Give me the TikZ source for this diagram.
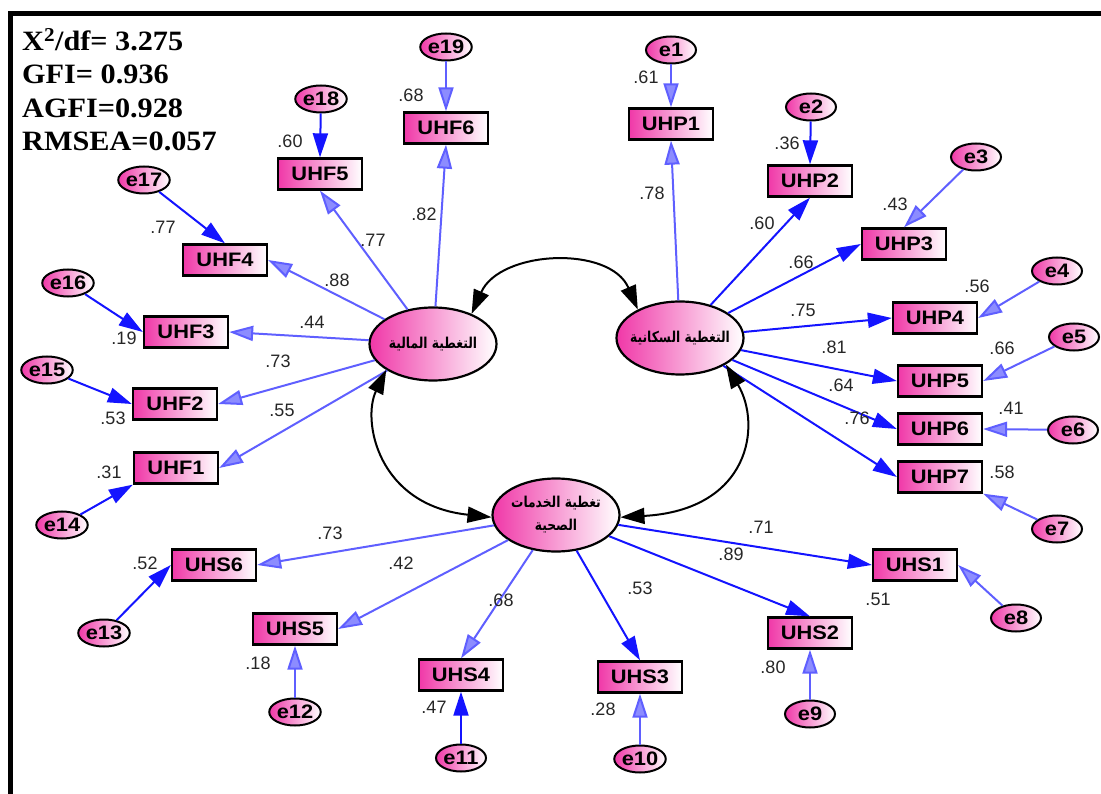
\documentclass[tikz,border=0pt]{standalone}
\usepackage{fontspec}
\setmainfont{Liberation Sans}
\newfontfamily\namefont{Liberation Sans}[FakeStretch=1.12]
\newfontfamily\statfont{Liberation Serif}[FakeStretch=1.08]
\newfontfamily\arabicfont[Script=Arabic,FakeStretch=0.82]{DejaVu Sans}
\TeXXeTstate=1
\usetikzlibrary{shapes.geometric}
\usetikzlibrary{arrows.meta}
\definecolor{pinkA}{RGB}{240,56,168}
\definecolor{loadblue}{RGB}{20,20,255}
\definecolor{ltblue}{RGB}{95,95,255}
\definecolor{ltfill}{RGB}{140,140,255}

\begin{document}
\begin{tikzpicture}[x=1pt,y=-1pt]
\tikzstyle{latent}=[ellipse, line width=2.2pt, draw=black, minimum width=127, minimum height=73, inner sep=0, left color=pinkA, middle color=pinkA!28!white, right color=white]
\tikzstyle{arab}=[font=\arabicfont\bfseries\fontsize{15}{23}\selectfont, align=center, inner sep=0]
\tikzstyle{obs}=[rectangle, line width=2.3pt, draw=black, minimum width=84, minimum height=31, inner sep=0, left color=pinkA, middle color=pinkA!22!white, right color=white, font=\namefont\bfseries\fontsize{19.5}{20}\selectfont]
\tikzstyle{error}=[ellipse, line width=2pt, draw=black, minimum width=50, minimum height=27, inner sep=0, left color=pinkA, middle color=pinkA!30!white, right color=white, font=\namefont\bfseries\fontsize{19.5}{20}\selectfont]
\tikzstyle{coef}=[inner sep=0, text=black!85, font=\fontsize{18}{19}\selectfont]
\tikzstyle{load}=[line width=2pt, draw=loadblue, -{Triangle[length=24pt,width=15pt]}]
\tikzstyle{loadlt}=[line width=2pt, draw=ltblue, -{Triangle[length=24pt,width=15pt,fill=ltfill]}]
\tikzstyle{cov}=[line width=2pt, draw=black, {Triangle[length=24pt,width=16pt]}-{Triangle[length=24pt,width=16pt]}]

	\useasboundingbox (0,0) rectangle (1101,794);
	%frame
	\draw[line width=5pt] (10.5,830) -- (10.5,13.5) -- (1130,13.5);
	\node[inner sep=0, anchor=north west, align=left, font=\statfont\bfseries\fontsize{28}{33.5}\selectfont] (stats) at (22,28) {X\textsuperscript{2}/df= 3.275\\GFI= 0.936\\AGFI=0.928\\RMSEA=0.057};

	%latent variables
	\node[latent] (fin) at (433,344) [label={[arab]center:\beginR التغطية المالية\endR}] {};
	\node[latent] (pop) at (680,338) [label={[arab]center:\beginR التغطية السكانية\endR}] {};
	\node[latent] (hlt) at (556,515) [label={[arab]center:\beginR تغطية الخدمات\endR\\\beginR الصحية\endR}] {};

	%observed
	\node[obs] (uhf1) at (176,468) {UHF1};
	\node[obs] (uhf2) at (175,404) {UHF2};
	\node[obs] (uhf3) at (186,332) {UHF3};
	\node[obs] (uhf4) at (225,260) {UHF4};
	\node[obs] (uhf5) at (320,174) {UHF5};
	\node[obs] (uhf6) at (446,128) {UHF6};
	\node[obs] (uhp1) at (671,124) {UHP1};
	\node[obs] (uhp2) at (810,181) {UHP2};
	\node[obs] (uhp3) at (904,244) {UHP3};
	\node[obs] (uhp4) at (935,318) {UHP4};
	\node[obs] (uhp5) at (940,381) {UHP5};
	\node[obs] (uhp6) at (940,429) {UHP6};
	\node[obs] (uhp7) at (940,477) {UHP7};
	\node[obs] (uhs1) at (915,565) {UHS1};
	\node[obs] (uhs2) at (810,633) {UHS2};
	\node[obs] (uhs3) at (640,677) {UHS3};
	\node[obs] (uhs4) at (461,675) {UHS4};
	\node[obs] (uhs5) at (295,629) {UHS5};
	\node[obs] (uhs6) at (214,565) {UHS6};

	%errors
	\node[error] (e1) at (671,50) {e1};
	\node[error] (e2) at (811,107) {e2};
	\node[error] (e3) at (976,157) {e3};
	\node[error] (e4) at (1057,271) {e4};
	\node[error] (e5) at (1074,337) {e5};
	\node[error] (e6) at (1073,430) {e6};
	\node[error] (e7) at (1057,529) {e7};
	\node[error] (e8) at (1016,618) {e8};
	\node[error] (e9) at (810,714) {e9};
	\node[error] (e10) at (640,759) {e10};
	\node[error] (e11) at (461,758) {e11};
	\node[error] (e12) at (295,712) {e12};
	\node[error] (e13) at (104,633) {e13};
	\node[error] (e14) at (62,525) {e14};
	\node[error] (e15) at (47,370) {e15};
	\node[error] (e16) at (68,283) {e16};
	\node[error] (e17) at (144,180) {e17};
	\node[error] (e18) at (321,99) {e18};
	\node[error] (e19) at (446,47) {e19};

	%loadings
	\draw[loadlt] (fin) -- (uhf6.south);
	\draw[loadlt] (fin) -- (uhf5.south);
	\draw[loadlt] (fin) -- (uhf4.east);
	\draw[loadlt] (fin) -- (uhf3.east);
	\draw[loadlt] (fin) -- (uhf2.east);
	\draw[loadlt] (fin) -- (uhf1.east);
	\draw[loadlt] (pop) -- (uhp1.south);
	\draw[load] (pop) -- (uhp2.south);
	\draw[load] (pop) -- (uhp3.west);
	\draw[load] (pop) -- (uhp4.west);
	\draw[load] (pop) -- (uhp5.west);
	\draw[load] (pop) -- (uhp6.west);
	\draw[load] (pop) -- (uhp7.west);
	\draw[loadlt] (hlt) -- (uhs6.east);
	\draw[loadlt] (hlt) -- (uhs5.east);
	\draw[loadlt] (hlt) -- (uhs4.north);
	\draw[load] (hlt) -- (uhs3.north);
	\draw[load] (hlt) -- (uhs2.north);
	\draw[load] (hlt) -- (uhs1.west);

	%error paths
	\draw[loadlt] (e1) -- (uhp1.north);
	\draw[load] (e2) -- (uhp2.north);
	\draw[loadlt] (e3) -- (uhp3.north);
	\draw[loadlt] (e4) -- (uhp4.east);
	\draw[loadlt] (e5) -- (uhp5.east);
	\draw[loadlt] (e6) -- (uhp6.east);
	\draw[loadlt] (e7) -- (uhp7.south east);
	\draw[loadlt] (e8) -- (uhs1.east);
	\draw[loadlt] (e9) -- (uhs2.south);
	\draw[loadlt] (e10) -- (uhs3.south);
	\draw[load] (e11) -- (uhs4.south);
	\draw[loadlt] (e12) -- (uhs5.south);
	\draw[load] (e13) -- (uhs6.west);
	\draw[load] (e14) -- (uhf1.south west);
	\draw[load] (e15) -- (uhf2.west);
	\draw[load] (e16) -- (uhf3.west);
	\draw[load] (e17) -- (uhf4.north);
	\draw[load] (e18) -- (uhf5.north);
	\draw[loadlt] (e19) -- (uhf6.north);

	%covariances
	\draw[cov] (fin.38) .. controls (500,250) and (610,245) .. (pop.146);
	\draw[cov] (fin.209) .. controls (362,420) and (377,505) .. (hlt.182);
	\draw[cov] (pop.330) .. controls (762,425) and (750,510) .. (hlt.358);

	%coefficients
	\node[coef] (c_e19) at (411,95) {.68};
	\node[coef] (c_e18) at (290,141) {.60};
	\node[coef] (c_e17) at (163,227) {.77};
	\node[coef] (c_uhf5) at (373,240) {.77};
	\node[coef] (c_uhf6) at (424,214) {.82};
	\node[coef] (c_uhf4) at (337,280) {.88};
	\node[coef] (c_uhf3) at (312,322) {.44};
	\node[coef] (c_e16) at (124,338) {.19};
	\node[coef] (c_uhf2) at (278,361) {.73};
	\node[coef] (c_e15) at (113,418) {.53};
	\node[coef] (c_uhf1) at (282,410) {.55};
	\node[coef] (c_e14) at (109,472) {.31};
	\node[coef] (c_uhs6) at (330,533) {.73};
	\node[coef] (c_e13) at (145,563) {.52};
	\node[coef] (c_uhs5) at (401,563) {.42};
	\node[coef] (c_e12) at (258,663) {.18};
	\node[coef] (c_uhs4) at (501,600) {.68};
	\node[coef] (c_e11) at (434,707) {.47};
	\node[coef] (c_uhs3) at (640,588) {.53};
	\node[coef] (c_e10) at (603,709) {.28};
	\node[coef] (c_uhs2) at (731,554) {.89};
	\node[coef] (c_uhs1) at (761,527) {.71};
	\node[coef] (c_e8) at (878,599) {.51};
	\node[coef] (c_e9) at (773,667) {.80};
	\node[coef] (c_e1) at (646,77) {.61};
	\node[coef] (c_uhp1) at (652,193) {.78};
	\node[coef] (c_e2) at (787,143) {.36};
	\node[coef] (c_uhp2) at (762,223) {.60};
	\node[coef] (c_e3) at (895,204) {.43};
	\node[coef] (c_uhp3) at (801,262) {.66};
	\node[coef] (c_e4) at (977,286) {.56};
	\node[coef] (c_uhp4) at (803,310) {.75};
	\node[coef] (c_uhp5) at (834,347) {.81};
	\node[coef] (c_e5) at (1002,348) {.66};
	\node[coef] (c_uhp6) at (841,385) {.64};
	\node[coef] (c_e6) at (1011,408) {.41};
	\node[coef] (c_uhp7) at (857,418) {.76};
	\node[coef] (c_e7) at (1002,472) {.58};

\end{tikzpicture}
\end{document}
